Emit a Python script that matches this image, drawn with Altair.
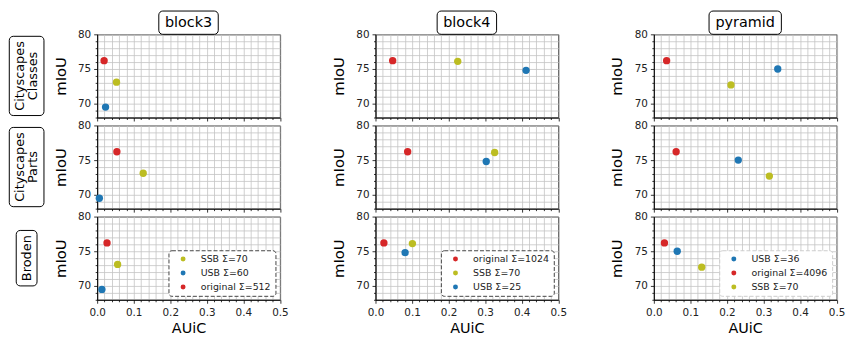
import altair as alt
import pandas as pd

# ---------------- data ----------------
columns = ["block3", "block4", "pyramid"]
row_labels = [["Cityscapes", "Classes"], ["Cityscapes", "Parts"], ["Broden"]]
methods = ["original", "SSB", "USB"]
method_colors = ["#d62728", "#bcbd22", "#1f77b4"]

sigma = {
    "block3": [512, 70, 60],
    "block4": [1024, 70, 25],
    "pyramid": [4096, 70, 36],
}
legend_order = {
    "block3": ["SSB", "USB", "original"],
    "block4": ["original", "SSB", "USB"],
    "pyramid": ["USB", "original", "SSB"],
}
# mIoU per method (original, SSB, USB)
miou = {
    "block3": [76.2, 73.1, 69.5],
    "block4": [76.2, 76.1, 74.8],
    "pyramid": [76.2, 72.7, 75.0],
}
# AUiC per row (Classes, Parts, Broden), per method (original, SSB, USB)
auic = {
    "block3": [[0.019, 0.053, 0.023], [0.054, 0.126, 0.006], [0.027, 0.056, 0.013]],
    "block4": [[0.047, 0.225, 0.412], [0.088, 0.326, 0.303], [0.023, 0.101, 0.081]],
    "pyramid": [[0.035, 0.211, 0.339], [0.061, 0.316, 0.231], [0.029, 0.131, 0.064]],
}

x_ticks = [0.0, 0.02, 0.04, 0.06, 0.08, 0.1, 0.12, 0.14, 0.16, 0.18, 0.2,
           0.22, 0.24, 0.26, 0.28, 0.3, 0.32, 0.34, 0.36, 0.38, 0.4,
           0.42, 0.44, 0.46, 0.48, 0.5]
y_ticks = [68, 69, 70, 71, 72, 73, 74, 75, 76, 77, 78, 79, 80]

# ---------------- style ----------------
W, H = 184.5, 84
FONT = "DejaVu Sans"
title_box_w = {"block3": 60, "block4": 60, "pyramid": 73}
XMAJ = "abs(datum.value*10 - round(datum.value*10)) < 0.001"
YMAJ = "datum.value % 5 == 0"


def panel(ci, ri):
    col = columns[ci]
    labels = [f"{m} Σ={s}" for m, s in zip(methods, sigma[col])]
    df = pd.DataFrame({
        "label": labels,
        "auic": auic[col][ri],
        "miou": miou[col],
    })
    order = [labels[methods.index(m)] for m in legend_order[col]]
    rng = [method_colors[methods.index(m)] for m in legend_order[col]]
    bottom = ri == 2

    xaxis_kw = dict(
        values=x_ticks, format=".1f", labels=bottom,
        labelExpr=f"{XMAJ} ? datum.label : ''",
        labelOverlap=False, labelFlush=False, labelFontSize=10.5,
        labelColor="#222", labelPadding=4, labelFont=FONT,
        tickSize={"condition": {"test": XMAJ, "value": 3.5}, "value": 2},
        tickColor="black", tickWidth=0.8,
        domainColor="black", domainWidth=1,
        grid=True, gridColor="#c4c4c4", gridWidth=0.8,
        titleFontSize=14.5, titleFontWeight="normal", titleColor="black",
        titlePadding=4, titleFont=FONT,
    )
    yaxis_kw = dict(
        values=y_ticks, labelExpr=f"{YMAJ} ? datum.label : ''",
        labelOverlap=False, labelFlush=False, labelFontSize=10.5,
        labelColor="#222", labelPadding=3, labelFont=FONT,
        tickSize={"condition": {"test": YMAJ, "value": 3.5}, "value": 2},
        tickColor="black", tickWidth=0.8,
        domainColor="black", domainWidth=1,
        grid=True, gridColor="#c4c4c4", gridWidth=0.8,
        titleFontSize=15, titleFontWeight="normal", titleColor="black",
        titlePadding=9.5, titleFont=FONT,
    )

    if bottom:
        dashed = col != "pyramid"
        legend = alt.Legend(
            title=None, orient="bottom-right", offset=4.5, padding=4,
            cornerRadius=3, fillColor="white",
            strokeColor="#444444" if dashed else "#cccccc",
            labelFontSize=9.5, labelColor="#222", labelFont=FONT,
            symbolType="circle", symbolSize=25, symbolStrokeWidth=0,
            symbolOffset=6, labelOffset=13, rowPadding=3.2,
        )
    else:
        legend = None

    pts = alt.Chart(df).mark_circle(size=55, opacity=1).encode(
        x=alt.X("auic:Q", scale=alt.Scale(domain=[0, 0.5], nice=False),
                axis=alt.Axis(**xaxis_kw), title="AUiC" if bottom else None),
        y=alt.Y("miou:Q", scale=alt.Scale(domain=[68, 80], nice=False, zero=False),
                axis=alt.Axis(**yaxis_kw), title="mIoU"),
        color=alt.Color("label:N", scale=alt.Scale(domain=order, range=rng),
                        legend=legend),
    )
    layers = [pts]
    one = pd.DataFrame({"k": [0]})
    if ri == 0:
        bw = title_box_w[col]
        layers.append(alt.Chart(one).mark_rect(
            fill="white", stroke="black", strokeWidth=1, cornerRadius=4
        ).encode(x=alt.value(W / 2 - bw / 2), x2=alt.value(W / 2 + bw / 2),
                 y=alt.value(-23.5), y2=alt.value(0)))
        layers.append(alt.Chart(one).mark_text(
            font=FONT, fontSize=14.5, color="black", align="center", baseline="middle"
        ).encode(text=alt.value(col), x=alt.value(W / 2), y=alt.value(-11.5)))
    if ci == 0:
        lab = row_labels[ri]
        n = len(lab)
        bw, bh = (35, 80) if n == 2 else (21, 56)
        cx = -71.2
        layers.append(alt.Chart(one).mark_rect(
            fill="white", stroke="black", strokeWidth=1, cornerRadius=4
        ).encode(x=alt.value(cx - bw / 2), x2=alt.value(cx + bw / 2),
                 y=alt.value(H / 2 - bh / 2), y2=alt.value(H / 2 + bh / 2)))
        line_gap = 13.3
        for k, line in enumerate(lab):
            off = (k - (n - 1) / 2) * line_gap
            layers.append(alt.Chart(one).mark_text(
                font=FONT, fontSize=13, color="black", align="center",
                baseline="middle", angle=270
            ).encode(text=alt.value(line), x=alt.value(cx + off),
                     y=alt.value(H / 2)))
    return alt.layer(*layers).properties(width=W, height=H)


panels = [panel(ci, ri) for ri in range(3) for ci in range(3)]

chart = alt.concat(
    *panels, columns=3, spacing={"row": 8, "column": 96}, bounds="flush"
).resolve_scale(color="independent").properties(padding=0).configure(
    font=FONT
).configure_view(stroke="#222", strokeWidth=1).configure_legend(
    strokeDash=[4, 2], strokeWidth=1
)

chart.save("out.html", embed_options={"renderer": "svg", "actions": False})
